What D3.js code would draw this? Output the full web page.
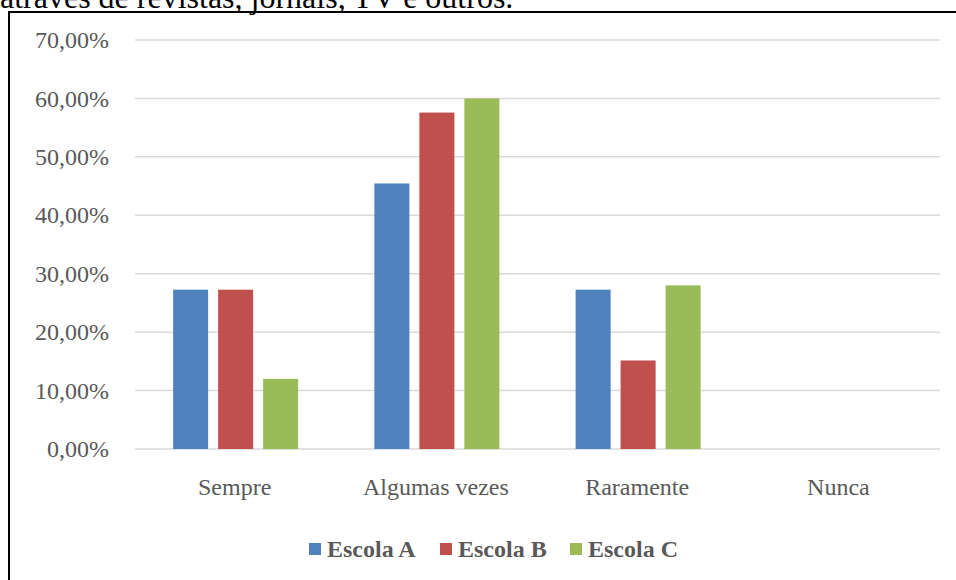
<!DOCTYPE html>
<html>
<head>
<meta charset="utf-8">
<script src="https://cdn.jsdelivr.net/npm/d3@7"></script>
<style>
  html, body { margin: 0; padding: 0; background: #fff; }
  svg { display: block; }
</style>
</head>
<body>
<svg id="chart" width="956" height="580"></svg>
<script>
// Categories, series and tick values
const categories = ["Sempre", "Algumas vezes", "Raramente", "Nunca"];
const seriesNames = ["Escola A", "Escola B", "Escola C"];
const escolaA = [0.2727, 0.4545, 0.2727, 0];
const escolaB = [0.2727, 0.5758, 0.1515, 0];
const escolaC = [0.12, 0.60, 0.28, 0];
const yTicks = [0, 0.1, 0.2, 0.3, 0.4, 0.5, 0.6, 0.7];
const colors = ["#4f81bd", "#c0504d", "#9bbb59"];

const series = [escolaA, escolaB, escolaC];
const rows = categories.map((c, i) => ({ cat: c, vals: series.map(s => s[i]) }));

const svg = d3.select("#chart");
const serif = "'Liberation Serif', 'Times New Roman', serif";

// Caption line above the frame (partly clipped by the top edge)
svg.append("text")
  .attr("x", 0).attr("y", 8)
  .attr("font-family", serif).attr("font-size", 32).attr("fill", "#000")
  .text("através de revistas, jornais, TV e outros.");

// Chart frame
svg.append("rect")
  .attr("x", 9).attr("y", 12).attr("width", 960).attr("height", 600)
  .attr("fill", "none").attr("stroke", "#000").attr("stroke-width", 2);

const plot = { left: 135, right: 940, top: 40, bottom: 449 };

const x = d3.scaleBand().domain(categories).range([plot.left, plot.right]).padding(0);
const y = d3.scaleLinear().domain([0, 0.7]).range([plot.bottom, plot.top]);
const barW = 35, barStep = 45;
const half = (barStep * 2 + barW) / 2;
const xs = d3.scaleBand().domain(seriesNames)
  .range([-half, half])
  .paddingInner((barStep - barW) / barStep).paddingOuter(0);

const fmt = v => d3.format(".2f")(v * 100).replace(".", ",") + "%";

// Gridlines
svg.append("g").selectAll("line").data(yTicks).join("line")
  .attr("x1", plot.left).attr("x2", plot.right)
  .attr("y1", d => y(d)).attr("y2", d => y(d))
  .attr("stroke", "#d9d9d9").attr("stroke-width", 1.5);

// Y axis labels
const yAxis = d3.axisLeft(y).tickValues(yTicks).tickFormat(fmt).tickSize(0).tickPadding(0);
const gy = svg.append("g").attr("transform", "translate(109,0)").call(yAxis);
gy.select(".domain").remove();
gy.selectAll("text")
  .attr("font-family", serif).attr("font-size", 24).attr("fill", "#595959");

// Bars
const groups = svg.append("g").selectAll("g").data(rows).join("g")
  .attr("transform", d => `translate(${x(d.cat) + x.bandwidth() / 2},0)`);
groups.selectAll("rect").data(d => d.vals.map((v, i) => ({ v, name: seriesNames[i], i })))
  .join("rect")
  .attr("x", d => xs(d.name))
  .attr("width", xs.bandwidth())
  .attr("y", d => y(d.v))
  .attr("height", d => y(0) - y(d.v))
  .attr("fill", d => colors[d.i]);

// X axis labels
const xAxis = d3.axisBottom(x).tickSize(0).tickPadding(0);
const gx = svg.append("g").attr("transform", "translate(-1,0)").call(xAxis);
gx.select(".domain").remove();
gx.selectAll("text")
  .attr("font-family", serif).attr("font-size", 24).attr("fill", "#595959")
  .attr("dy", null).attr("y", 495);

// Legend
const legendX = [309, 440, 570];
const legend = svg.append("g").selectAll("g").data(seriesNames).join("g")
  .attr("transform", (d, i) => `translate(${legendX[i]},543)`);
legend.append("rect").attr("width", 12).attr("height", 12)
  .attr("fill", (d, i) => colors[i]);
legend.append("text").attr("x", 18).attr("y", 14)
  .attr("font-family", serif).attr("font-size", 24).attr("font-weight", "bold")
  .attr("fill", "#595959").text(d => d);
</script>
</body>
</html>
